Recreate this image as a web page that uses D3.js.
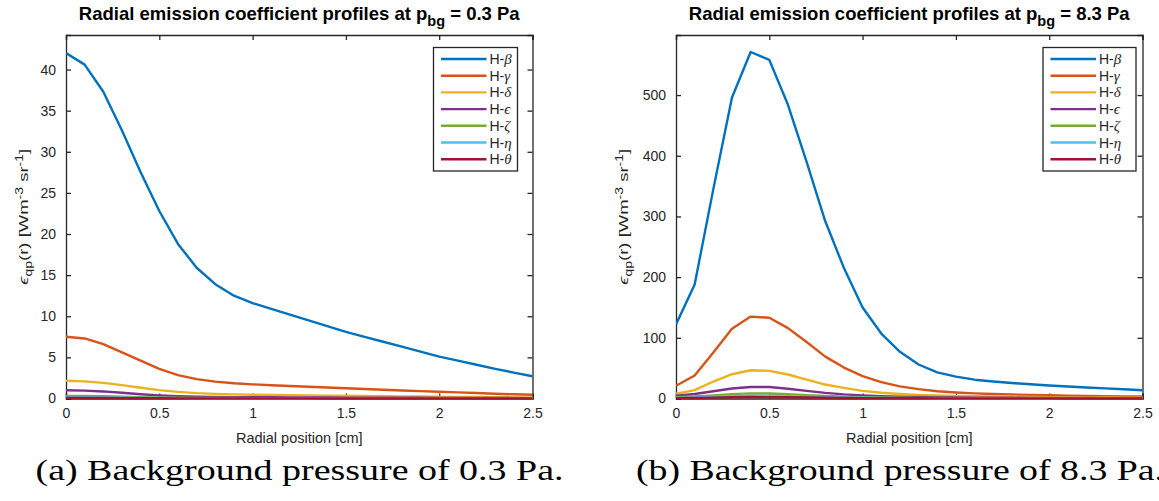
<!DOCTYPE html>
<html>
<head>
<meta charset="utf-8">
<script src="https://cdn.jsdelivr.net/npm/d3@7"></script>
<style>
  body { margin: 0; background: #fff; }
  svg { display: block; }
</style>
</head>
<body>
<div id="chart"></div>
<script>
// radial positions [cm]
var radialPos = [0, 0.1, 0.2, 0.3, 0.4, 0.5, 0.6, 0.7, 0.8, 0.9, 1.0, 1.1, 1.2,
  1.3, 1.4, 1.5, 1.6, 1.7, 1.8, 1.9, 2.0, 2.1, 2.2, 2.3, 2.4, 2.5];

var lineNames = ["β", "γ", "δ", "ϵ", "ζ", "η", "θ"];
var lineColors = ["#0072BD", "#D95319", "#EDB120", "#7E2F8E", "#77AC30", "#4DBEEE", "#A2142F"];
var xTicks = [0, 0.5, 1, 1.5, 2, 2.5];

// p_bg = 0.3 Pa
var lowBeta = [42.0, 40.6, 37.3, 32.6, 27.5, 22.8, 18.8, 15.9, 13.9, 12.5, 11.6, 10.9, 10.2,
  9.5, 8.8, 8.1, 7.5, 6.9, 6.3, 5.7, 5.1, 4.6, 4.1, 3.6, 3.15, 2.7];
var lowGamma = [7.5, 7.3, 6.6, 5.6, 4.6, 3.6, 2.85, 2.35, 2.05, 1.85, 1.72, 1.61, 1.52,
  1.43, 1.34, 1.25, 1.16, 1.07, 0.98, 0.9, 0.82, 0.74, 0.66, 0.58, 0.51, 0.45];
var lowDelta = [2.15, 2.08, 1.9, 1.62, 1.3, 1.02, 0.8, 0.65, 0.56, 0.5, 0.46, 0.43, 0.4,
  0.38, 0.35, 0.33, 0.3, 0.28, 0.26, 0.24, 0.22, 0.2, 0.18, 0.16, 0.14, 0.13];
var lowEpsilon = [1.0, 0.96, 0.86, 0.7, 0.52, 0.38, 0.28, 0.22, 0.19, 0.17, 0.16, 0.15, 0.14,
  0.13, 0.12, 0.11, 0.1, 0.095, 0.09, 0.085, 0.08, 0.07, 0.065, 0.06, 0.055, 0.05];
var lowZeta = [0.32, 0.31, 0.28, 0.23, 0.17, 0.12, 0.09, 0.07, 0.06, 0.055, 0.05, 0.048, 0.045,
  0.042, 0.04, 0.037, 0.035, 0.033, 0.03, 0.028, 0.026, 0.024, 0.022, 0.021, 0.02, 0.02];
var lowEta = [0.14, 0.135, 0.12, 0.1, 0.075, 0.055, 0.04, 0.032, 0.028, 0.025, 0.023, 0.022, 0.021,
  0.02, 0.019, 0.018, 0.017, 0.016, 0.015, 0.014, 0.013, 0.012, 0.011, 0.01, 0.01, 0.01];
var lowTheta = [0.07, 0.068, 0.06, 0.05, 0.038, 0.028, 0.02, 0.016, 0.014, 0.012, 0.011, 0.011, 0.01,
  0.01, 0.009, 0.009, 0.008, 0.008, 0.007, 0.007, 0.006, 0.006, 0.005, 0.005, 0.005, 0.005];

// p_bg = 8.3 Pa
var highBeta = [122, 188, 345, 496, 571, 558, 484, 390, 292, 215, 150, 107, 77,
  56, 43, 36, 31, 28, 25.5, 23.5, 21.5, 19.8, 18.2, 16.7, 15.2, 13.7];
var highGamma = [21, 38, 76, 115, 135, 133, 116, 93, 69, 51, 37, 27, 20,
  15.5, 12, 10, 8.5, 7.5, 6.6, 5.9, 5.3, 4.8, 4.3, 3.9, 3.5, 3.2];
var highDelta = [7.7, 13.7, 28, 40, 46.5, 45.5, 39.5, 31, 23, 17.5, 12.5, 9.5, 7.5,
  6, 5, 4.3, 3.7, 3.2, 2.8, 2.5, 2.2, 2.0, 1.8, 1.6, 1.45, 1.3];
var highEpsilon = [4.5, 7.5, 12, 16.5, 19, 19, 16, 12.5, 9.3, 6.8, 5, 3.8, 3,
  2.4, 2, 1.7, 1.5, 1.3, 1.15, 1.0, 0.9, 0.8, 0.72, 0.65, 0.58, 0.52];
var highZeta = [2, 3.2, 5.2, 7.2, 8.4, 8.3, 7.1, 5.6, 4.2, 3.1, 2.3, 1.7, 1.35,
  1.1, 0.9, 0.78, 0.68, 0.6, 0.53, 0.47, 0.42, 0.38, 0.34, 0.31, 0.28, 0.25];
var highEta = [1, 1.6, 2.6, 3.6, 4.2, 4.2, 3.6, 2.8, 2.1, 1.6, 1.2, 0.9, 0.7,
  0.57, 0.48, 0.41, 0.35, 0.31, 0.27, 0.24, 0.21, 0.19, 0.17, 0.16, 0.15, 0.14];
var highTheta = [0.55, 0.9, 1.45, 2.0, 2.35, 2.3, 2.0, 1.6, 1.2, 0.9, 0.68, 0.5, 0.4,
  0.32, 0.27, 0.23, 0.2, 0.18, 0.16, 0.14, 0.13, 0.12, 0.11, 0.1, 0.09, 0.08];

var lowYTicks = [0, 5, 10, 15, 20, 25, 30, 35, 40];
var highYTicks = [0, 100, 200, 300, 400, 500];

var svg = d3.select("#chart").append("svg")
  .attr("width", 1159)
  .attr("height", 501);

var axisColor = "#262626";
var sansFont = "'Liberation Sans', Arial, Helvetica, sans-serif";
var greekFont = "'Liberation Serif', 'Times New Roman', serif";

function drawPanel(opt) {
  var x = d3.scaleLinear().domain([0, 2.5]).range([opt.left, opt.left + 466.5]);
  var y = d3.scaleLinear().domain([0, opt.yMax]).range([398.5, 35]);
  var g = svg.append("g");
  var top = y.range()[1], bottom = y.range()[0];
  var xl = x.range()[0], xr = x.range()[1];

  // clip
  var clipId = "clip" + opt.id;
  svg.append("clipPath").attr("id", clipId)
    .append("rect")
    .attr("x", xl).attr("y", top - 2)
    .attr("width", xr - xl + 2).attr("height", bottom - top + 4);

  // axes with inward ticks (box on)
  var tickLen = 5;
  var bottomAxis = g.append("g").attr("transform", "translate(0," + bottom + ")")
    .call(d3.axisBottom(x).tickValues(xTicks).tickSize(-tickLen).tickPadding(10)
      .tickFormat(d3.format("~g")));
  var topAxis = g.append("g").attr("transform", "translate(0," + top + ")")
    .call(d3.axisTop(x).tickValues(xTicks).tickSize(-tickLen).tickFormat(""));
  var leftAxis = g.append("g").attr("transform", "translate(" + xl + ",0)")
    .call(d3.axisLeft(y).tickValues(opt.yTicks).tickSize(-tickLen).tickPadding(10));
  var rightAxis = g.append("g").attr("transform", "translate(" + xr + ",0)")
    .call(d3.axisRight(y).tickValues(opt.yTicks).tickSize(-tickLen).tickFormat(""));

  [bottomAxis, topAxis, leftAxis, rightAxis].forEach(function(a) {
    a.select(".domain").attr("stroke", axisColor).attr("stroke-width", 1.3);
    a.selectAll(".tick line").attr("stroke", axisColor).attr("stroke-width", 1.3);
    a.selectAll("text")
      .attr("fill", axisColor)
      .style("font-family", sansFont)
      .style("font-size", "14px");
  });

  // lines
  var line = d3.line()
    .x(function(d, i) { return x(radialPos[i]); })
    .y(function(d) { return y(d); });

  var lines = g.append("g").attr("clip-path", "url(#" + clipId + ")");
  opt.series.forEach(function(s, k) {
    lines.append("path")
      .datum(s)
      .attr("fill", "none")
      .attr("stroke", lineColors[k])
      .attr("stroke-width", 2.4)
      .attr("stroke-linejoin", "round")
      .attr("d", line);
  });

  // title
  var title = g.append("text")
    .attr("x", (xl + xr) / 2)
    .attr("y", 20)
    .attr("text-anchor", "middle")
    .attr("fill", "#000")
    .style("font-family", sansFont)
    .style("font-size", "18.5px")
    .style("font-weight", "bold");
  title.append("tspan").text("Radial emission coefficient profiles at p");
  title.append("tspan").attr("dy", 6).style("font-size", "14.5px").text("bg");
  title.append("tspan").attr("dy", -6).text(" = " + opt.pressure + " Pa");

  // x label
  g.append("text")
    .attr("x", (xl + xr) / 2)
    .attr("y", 443)
    .attr("text-anchor", "middle")
    .attr("fill", axisColor)
    .style("font-family", sansFont)
    .style("font-size", "14.5px")
    .text("Radial position [cm]");

  // y label
  var yl = g.append("text")
    .attr("transform", "translate(" + (xl - opt.yLabelOffset) + "," + ((top + bottom) / 2) + ") rotate(-90) scale(1,0.72)")
    .attr("text-anchor", "middle")
    .attr("fill", axisColor)
    .style("font-family", sansFont)
    .style("font-size", "18.5px");
  yl.append("tspan").style("font-style", "italic").text("ϵ");
  yl.append("tspan").attr("dy", 5).style("font-size", "14px").text("qp");
  yl.append("tspan").attr("dy", -5).text("(r) [Wm");
  yl.append("tspan").attr("dy", -7).style("font-size", "14px").text("-3");
  yl.append("tspan").attr("dy", 7).text(" sr");
  yl.append("tspan").attr("dy", -7).style("font-size", "14px").text("-1");
  yl.append("tspan").attr("dy", 7).text("]");

  // legend
  var lg = g.append("g").attr("transform", "translate(" + opt.legendX + ",47.5)");
  lg.append("rect")
    .attr("width", opt.legendW).attr("height", 123.5)
    .attr("fill", "#fff")
    .attr("stroke", axisColor)
    .attr("stroke-width", 1.3);
  lineNames.forEach(function(n, k) {
    var row = lg.append("g").attr("transform", "translate(0," + (11.5 + k * 16.7) + ")");
    row.append("line")
      .attr("x1", 7.5).attr("x2", 53)
      .attr("stroke", lineColors[k]).attr("stroke-width", 2.4);
    var t = row.append("text")
      .attr("x", 56).attr("y", 5)
      .attr("fill", axisColor)
      .style("font-family", sansFont)
      .style("font-size", "14px");
    t.append("tspan").text("H-");
    t.append("tspan")
      .style("font-family", greekFont)
      .style("font-style", "italic")
      .style("font-size", "15px")
      .text(n);
  });

  // caption
  svg.append("text")
    .attr("x", opt.captionX)
    .attr("y", 480)
    .attr("text-anchor", "middle")
    .attr("textLength", 528)
    .attr("lengthAdjust", "spacingAndGlyphs")
    .attr("fill", "#000")
    .style("font-family", "'Liberation Serif', 'Times New Roman', serif")
    .style("font-size", "30px")
    .text(opt.caption);
}

drawPanel({
  id: "a", left: 66, yMax: 44.2, yTicks: lowYTicks, pressure: "0.3",
  series: [lowBeta, lowGamma, lowDelta, lowEpsilon, lowZeta, lowEta, lowTheta],
  yLabelOffset: 38, legendX: 433.5, legendW: 84,
  captionX: 299.5, caption: "(a) Background pressure of 0.3 Pa."
});

drawPanel({
  id: "b", left: 676, yMax: 599, yTicks: highYTicks, pressure: "8.3",
  series: [highBeta, highGamma, highDelta, highEpsilon, highZeta, highEta, highTheta],
  yLabelOffset: 48, legendX: 1043, legendW: 93,
  captionX: 900, caption: "(b) Background pressure of 8.3 Pa."
});
</script>
</body>
</html>
